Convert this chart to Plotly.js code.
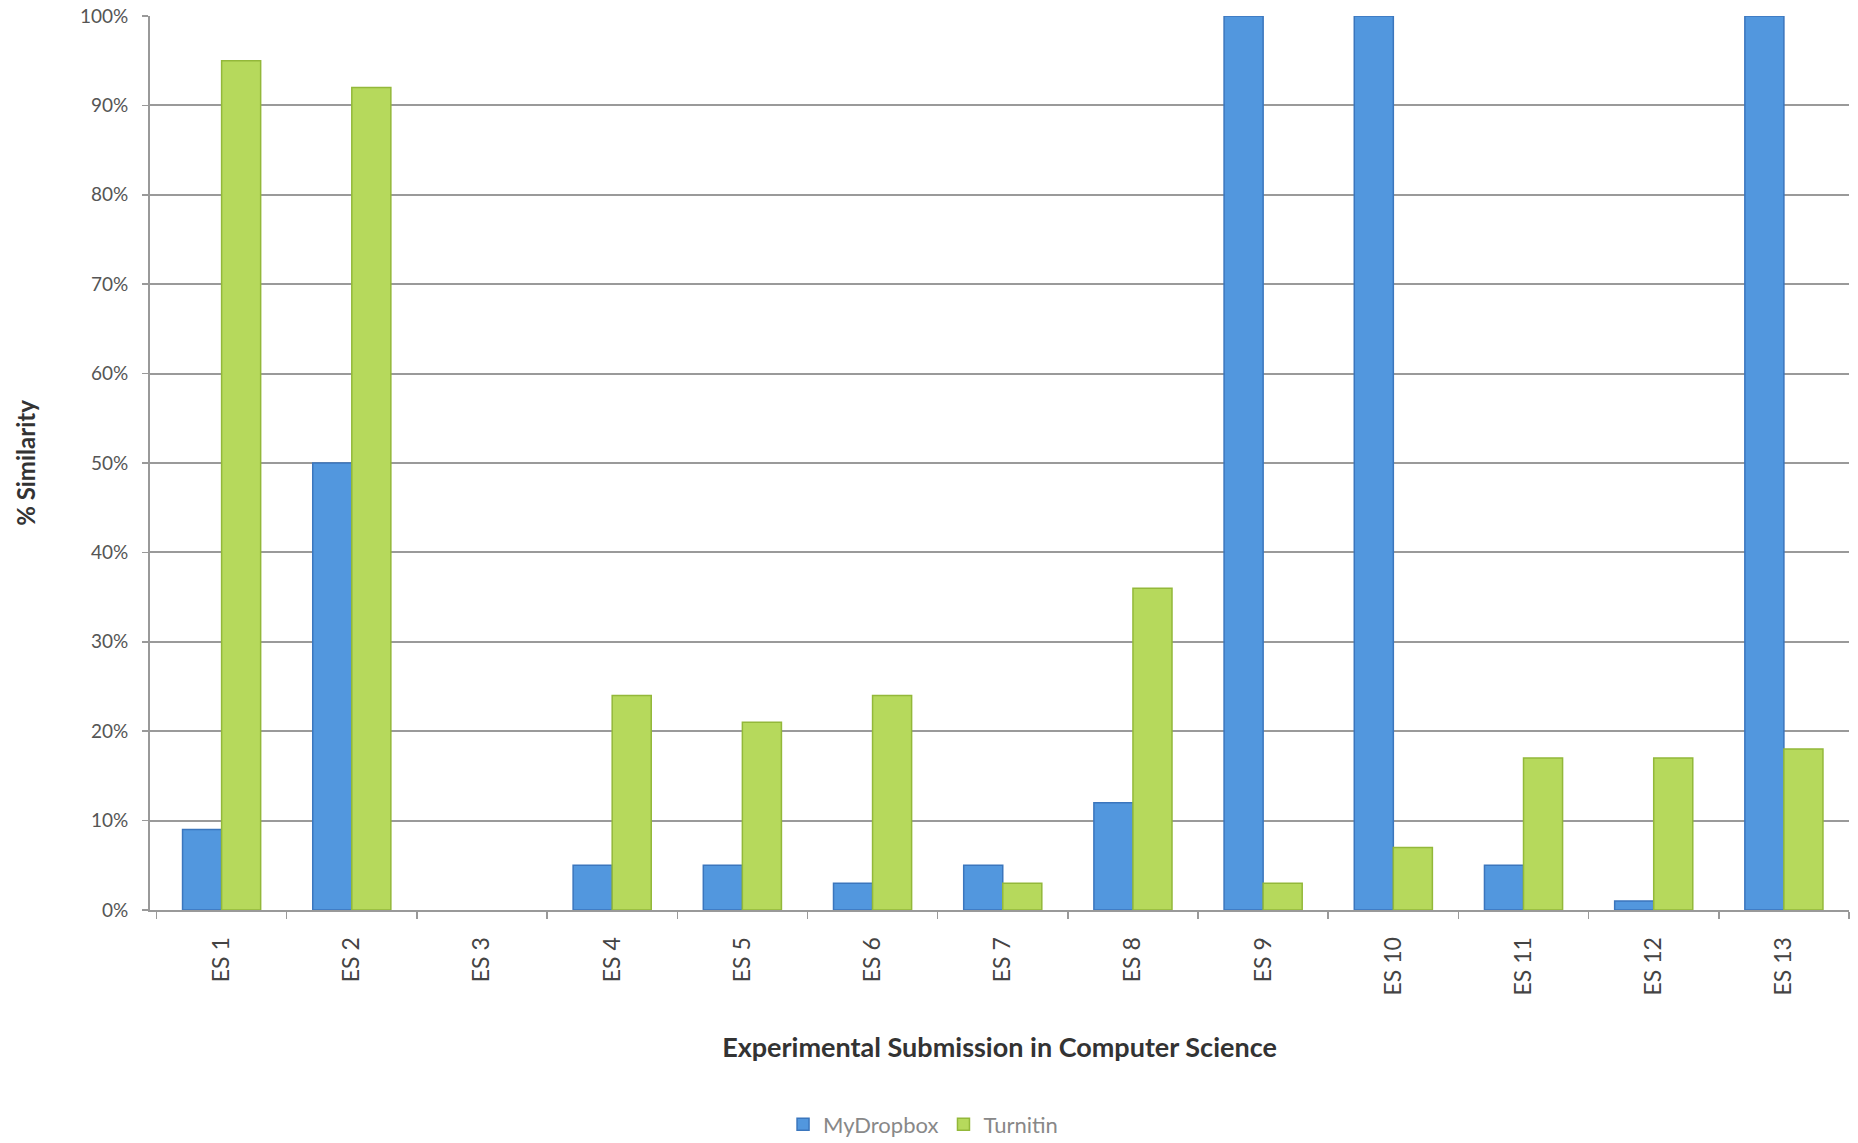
<!DOCTYPE html>
<html>
<head>
<meta charset="utf-8">
<script src="https://cdn.plot.ly/plotly-3.0.1.min.js"></script>
<style>html,body{margin:0;padding:0;background:#fff;}#chart{width:1858px;height:1143px;}</style>
</head>
<body>
<div id="chart"></div>
<script>
const categories = ['ES 1','ES 2','ES 3','ES 4','ES 5','ES 6','ES 7','ES 8','ES 9','ES 10','ES 11','ES 12','ES 13'];
const myDropbox = [9, 50, 0, 5, 5, 3, 5, 12, 100, 100, 5, 1, 100];
const turnitin  = [95, 92, 0, 24, 21, 24, 3, 36, 3, 7, 17, 17, 18];
const seriesNames = ['MyDropbox', 'Turnitin'];

const font = 'Lato, "Open Sans", "Liberation Sans", sans-serif';
const lineW = arr => arr.map(v => v > 0 ? 1.5 : 0);

const traces = [
  {type:'bar', name:seriesNames[0], x:categories, y:myDropbox,
   marker:{color:'#5297de', line:{color:'#3b76bd', width:lineW(myDropbox)}}},
  {type:'bar', name:seriesNames[1], x:categories, y:turnitin,
   marker:{color:'#b6d95c', line:{color:'#93b83a', width:lineW(turnitin)}}}
];

const layout = {
  width:1858, height:1143,
  paper_bgcolor:'#ffffff', plot_bgcolor:'#ffffff',
  margin:{l:150, r:9, t:16, b:233, autoexpand:false},
  barmode:'group', bargap:0.4, bargroupgap:0,
  font:{family:font, color:'#444'},
  showlegend:true,
  legend:{orientation:'h', x:0.455, xanchor:'center', y:-0.24, yanchor:'middle',
          font:{size:22, color:'#888'}, itemwidth:30},
  xaxis:{type:'category', range:[-0.55, 12.5], tickangle:-90, tickson:'boundaries', ticks:'outside', ticklen:7,
         tickcolor:'#999', tickwidth:1.5, ticklabelstandoff:16,
         showline:true, linecolor:'#999', linewidth:2, showgrid:false,
         tickfont:{size:23, color:'#444', family:font},
         title:{text:'<b>Experimental Submission in Computer Science</b>', standoff:44,
                font:{size:27, color:'#333', family:font}},
         automargin:false},
  yaxis:{range:[0,100], dtick:10, ticksuffix:'%', showgrid:true, gridcolor:'#9a9a9a', gridwidth:2,
         showline:true, linecolor:'#999', linewidth:2, zeroline:false,
         ticks:'outside', ticklen:6, tickcolor:'#999', tickwidth:1.5, ticklabelstandoff:10,
         tickfont:{size:19, color:'#555', family:font},
         title:{text:'<b>% Similarity</b>', standoff:38, font:{size:24, color:'#333', family:font}},
         automargin:false}
};

Plotly.newPlot('chart', traces, layout, {displayModeBar:false, staticPlot:true});
</script>
</body>
</html>
